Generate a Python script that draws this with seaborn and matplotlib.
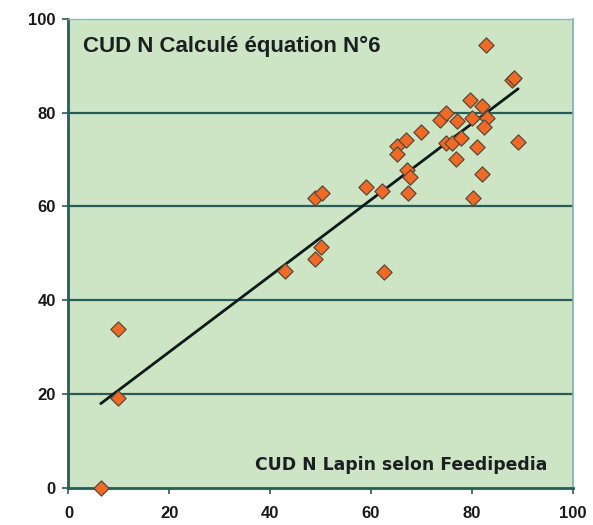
import matplotlib
matplotlib.use("Agg")
import matplotlib.pyplot as plt
import seaborn as sns
import pandas as pd

# Data
feedipedia = [6.4, 9.9, 9.9, 43.0, 48.9, 50.0, 48.9, 50.2, 59.1, 62.2, 62.5,
              65.1, 65.2, 67.0, 67.2, 67.8, 67.4, 70.0, 73.8, 74.9, 74.9, 76.0,
              77.1, 76.9, 77.9, 79.7, 80.0, 80.3, 81.0, 82.0, 83.0, 82.4, 82.0,
              82.9, 87.9, 88.3, 89.2]
calcule = [0.0, 33.8, 19.2, 46.3, 48.8, 51.4, 61.7, 62.9, 64.1, 63.2, 45.9,
           72.9, 71.2, 74.2, 67.8, 66.3, 62.9, 75.9, 78.4, 79.9, 73.6, 73.5,
           78.3, 70.1, 74.5, 82.7, 78.8, 61.7, 72.6, 81.5, 78.8, 77.0, 66.9,
           94.4, 87.0, 87.4, 73.8]
x_ticks = [0, 20, 40, 60, 80, 100]
y_ticks = [0, 20, 40, 60, 80, 100]
title_text = "CUD N Calculé équation N°6"
xlabel_text = "CUD N Lapin selon Feedipedia"

df = pd.DataFrame({"feedipedia": feedipedia, "calcule": calcule})

sns.set_style("white")
plt.rcParams['font.family'] = ['Liberation Sans', 'DejaVu Sans']

fig = plt.figure(figsize=(5.93, 5.25), dpi=100)
ax = fig.add_axes([0.1155, 0.0714, 0.85, 0.8924])
ax.set_facecolor("#cde5c5")

grid_c = "#2b5c58"
for yv in y_ticks[1:-1]:
    ax.axhline(yv, color=grid_c, lw=1.6, zorder=1)

sns.regplot(data=df, x="feedipedia", y="calcule", ax=ax, ci=None, truncate=True,
            scatter=False, line_kws=dict(color="#0d1a1a", lw=2.0, zorder=3))
sns.scatterplot(data=df, x="feedipedia", y="calcule", ax=ax, marker="D", s=60,
                color="#f06a26", edgecolor="#5a4a3a", linewidth=0.9, zorder=4,
                clip_on=False)

ax.set_xlim(0, 100)
ax.set_ylim(0, 100)
ax.set_xticks(x_ticks)
ax.set_yticks(y_ticks)
ax.set_xlabel("")
ax.set_ylabel("")
ax.tick_params(axis="both", direction="out", length=4, width=1.2,
               color=grid_c, labelsize=12, labelcolor="#1a1a1a")
ax.tick_params(axis="y", pad=5, left=True)
ax.tick_params(axis="x", pad=9, bottom=True)
for lab in ax.get_xticklabels() + ax.get_yticklabels():
    lab.set_fontweight("bold")

for side in ["left", "bottom"]:
    ax.spines[side].set_color(grid_c)
    ax.spines[side].set_linewidth(2.0)
ax.spines["top"].set_color("#8fb8b8")
ax.spines["top"].set_linewidth(1.0)
ax.spines["right"].set_color("#7fb0b8")
ax.spines["right"].set_linewidth(1.2)

ax.text(0.029, 0.942, title_text, transform=ax.transAxes, fontsize=16,
        fontweight="bold", color="#1a2020", va="center", ha="left")
ax.text(0.951, 0.048, xlabel_text, transform=ax.transAxes, fontsize=12.4,
        fontweight="bold", color="#1a2020", va="center", ha="right",
        family=["DejaVu Sans"])

fig.savefig("out.png", dpi=100)
